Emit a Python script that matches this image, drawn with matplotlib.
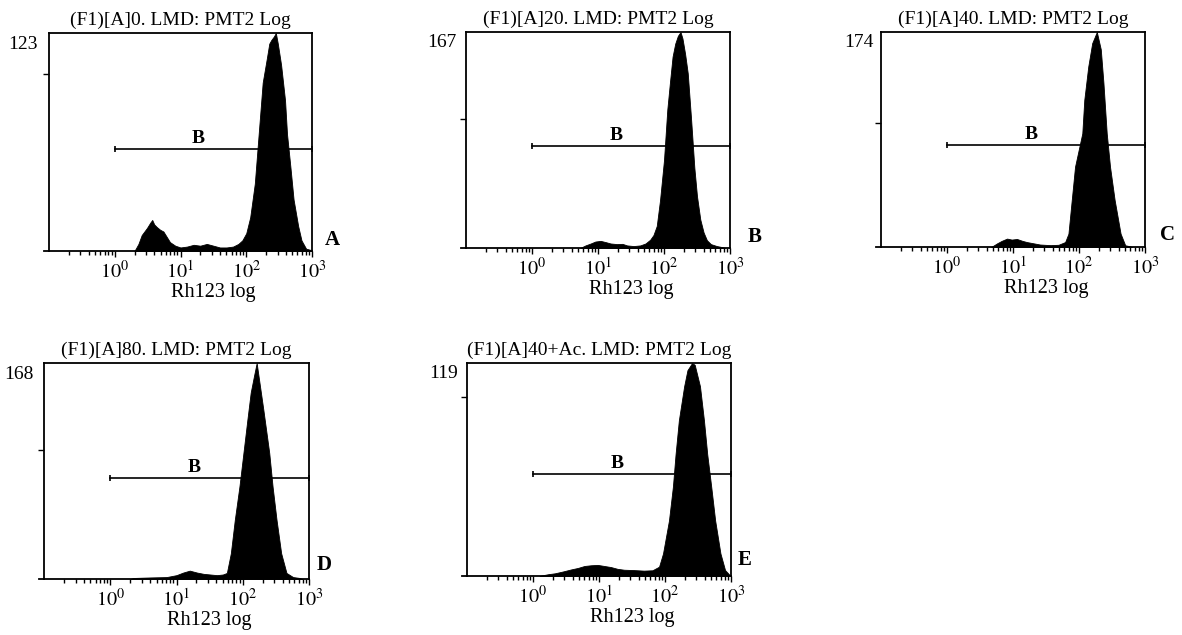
import numpy as np
import matplotlib
matplotlib.use("Agg")
import matplotlib.pyplot as plt
from matplotlib.ticker import FixedLocator, FixedFormatter, LogLocator, NullFormatter

plt.rcParams['font.family'] = ['Liberation Serif', 'DejaVu Serif']
plt.rcParams['mathtext.fontset'] = 'stix'

# ---- data (log10 of channel, counts) ----
titles = ["(F1)[A]0. LMD: PMT2 Log", "(F1)[A]20. LMD: PMT2 Log",
          "(F1)[A]40. LMD: PMT2 Log", "(F1)[A]80. LMD: PMT2 Log",
          "(F1)[A]40+Ac. LMD: PMT2 Log"]
letters = ["A", "B", "C", "D", "E"]
y_max = [123, 167, 174, 168, 119]
gate_y = [57.6, 79.2, 82.5, 78.3, 56.8]
gate_lo, gate_hi = 1.0, 1000.0
gate_name = "B"
x_label = "Rh123 log"
x_ticks = [1, 10, 100, 1000]
x_tick_labels = ["$10^0$", "$10^1$", "$10^2$", "$10^3$"]
y_tick = [100]

a_log = [0.30, 0.36, 0.41, 0.49, 0.54, 0.57, 0.60, 0.64, 0.69, 0.74, 0.79, 0.84,
         0.92, 1.00, 1.10, 1.20, 1.30, 1.40, 1.50, 1.60, 1.70, 1.80, 1.88, 1.94,
         2.00, 2.06, 2.13, 2.17, 2.21, 2.25, 2.31, 2.35, 2.38, 2.42, 2.45, 2.48,
         2.53, 2.59, 2.62, 2.67, 2.72, 2.79, 2.84, 2.91, 2.99, 3.00]
a_cnt = [0, 4, 9, 13, 16, 17.5, 15, 13.5, 12, 11, 8, 5,
         3, 2, 2.5, 3.5, 3, 4, 3, 2, 2, 2.5, 4, 6,
         10, 19, 38, 57, 76, 95, 108, 117, 119, 121, 123, 117,
         105, 85, 66, 48, 29, 14, 6, 1.3, 0.5, 0]

b_log = [0.73, 0.81, 0.89, 0.96, 1.04, 1.12, 1.19, 1.29, 1.37, 1.44, 1.54, 1.64,
         1.72, 1.79, 1.84, 1.89, 1.94, 2.00, 2.05, 2.09, 2.13, 2.17, 2.21, 2.25,
         2.28, 2.32, 2.36, 2.41, 2.46, 2.50, 2.55, 2.60, 2.65, 2.71, 2.80, 2.90, 2.92]
b_cnt = [0, 2, 3.5, 5, 5.5, 4.5, 3.5, 3, 3.2, 2, 1.5, 2,
         3.5, 6.4, 10, 17, 37, 68, 107, 128, 148, 158, 164, 167,
         162, 150, 135, 100, 62, 40, 22, 12, 6, 3, 1.5, 0.5, 0]

c_log = [0.67, 0.76, 0.83, 0.91, 0.98, 1.06, 1.14, 1.21, 1.31, 1.41, 1.57, 1.69,
         1.79, 1.84, 1.89, 1.94, 2.05, 2.08, 2.14, 2.20, 2.27, 2.33, 2.37, 2.42,
         2.47, 2.54, 2.63, 2.70, 2.78, 2.80]
c_cnt = [0, 3, 5, 6.8, 6, 6.5, 5, 4, 3, 2, 1.5, 1.8,
         4, 10.8, 38, 65, 92, 119, 146, 165, 174, 160, 133, 92,
         65, 38, 10.8, 1.4, 0.5, 0]

d_log = [0.30, 0.35, 0.60, 0.85, 1.00, 1.10, 1.20, 1.31, 1.41, 1.51, 1.61, 1.70,
         1.76, 1.82, 1.88, 1.95, 2.01, 2.07, 2.12, 2.17, 2.21, 2.26, 2.31, 2.40,
         2.45, 2.51, 2.58, 2.66, 2.76, 2.86, 2.90]
d_cnt = [0, 0.8, 1.2, 1.5, 3, 5, 6.5, 5, 4, 3.5, 3, 3.5,
         4.7, 20, 46, 72, 98, 124, 145, 158, 168, 150, 132, 98,
         72, 46, 20, 4.7, 1.5, 0.8, 0]

e_log = [0.10, 0.13, 0.23, 0.33, 0.45, 0.58, 0.68, 0.78, 0.88, 0.98, 1.08, 1.18,
         1.28, 1.38, 1.53, 1.68, 1.81, 1.91, 1.97, 2.06, 2.12, 2.16, 2.21, 2.29,
         2.34, 2.41, 2.45, 2.53, 2.59, 2.64, 2.70, 2.76, 2.84, 2.91, 2.98, 3.00]
e_cnt = [0, 0.3, 1, 1.5, 2.5, 3.7, 4.5, 5.6, 6, 6.2, 5.6, 5,
         4, 3.5, 3.3, 3, 3.2, 5.2, 12.6, 31, 50, 68, 87, 106,
         115, 119, 118, 106, 87, 68, 50, 31, 12.6, 3.3, 0.5, 0]

hist_logs = [a_log, b_log, c_log, d_log, e_log]
hist_cnts = [a_cnt, b_cnt, c_cnt, d_cnt, e_cnt]

# ---- layout (pixels in the 1182x635 figure) ----
W, H = 1182, 635
boxes = [(49, 33, 312, 251), (466, 32, 730, 248), (881, 32, 1145, 247),
         (44, 363, 309, 579), (467, 363, 731, 576)]
letter_off = [(13, 6), (18, 6), (15, 7), (8, 9), (7, 11)]
max_off = [(-11, -3), (-9, -2), (-7, -2), (-10, -3), (-9, -2)]

fig = plt.figure(figsize=(W / 100, H / 100), dpi=100)

for i in range(5):
    x0, y0, x1, y1 = boxes[i]
    ax = fig.add_axes([x0 / W, (H - y1) / H, (x1 - x0) / W, (y1 - y0) / H])
    xs = 10 ** np.array(hist_logs[i])
    ax.fill_between(xs, hist_cnts[i], 0, color="black", lw=0.6, edgecolor="black")

    ax.set_xscale("log")
    ax.set_xlim(0.1, 1000)
    ax.set_ylim(0, y_max[i])
    for s in ax.spines.values():
        s.set_linewidth(1.3)

    ax.xaxis.set_major_locator(FixedLocator(x_ticks))
    ax.xaxis.set_major_formatter(FixedFormatter(x_tick_labels))
    ax.xaxis.set_minor_locator(LogLocator(base=10, subs=np.arange(2, 10), numticks=20))
    ax.xaxis.set_minor_formatter(NullFormatter())
    ax.tick_params(axis="x", which="major", direction="out", length=4, width=1,
                   labelsize=14.5, pad=3)
    ax.tick_params(axis="x", which="minor", direction="out", length=3, width=1)
    ax.set_yticks(y_tick)
    ax.set_yticklabels([])
    ax.tick_params(axis="y", direction="out", length=4, width=1)

    # little stub of the x axis to the left of the frame
    ax.plot([-0.018, 0], [0, 0], transform=ax.transAxes, color="black",
            lw=1.3, clip_on=False)

    # gate marker
    ax.plot([gate_lo, gate_hi], [gate_y[i], gate_y[i]], color="black", lw=1.2,
            marker="|", markersize=5, mew=1.2, clip_on=False)
    ax.annotate(gate_name, xy=(10 ** 1.27, gate_y[i]), xytext=(0, 6),
                textcoords="offset pixels", ha="center", va="baseline",
                fontsize=14, fontweight="bold")

    ax.set_title(titles[i], fontsize=14, pad=5.5)
    ax.annotate(str(y_max[i]), xy=(0, 1), xycoords="axes fraction",
                xytext=max_off[i], textcoords="offset pixels",
                ha="right", va="top", fontsize=14)
    ax.annotate(x_label, xy=(10 ** 1.5, 0), xycoords=("data", "axes fraction"),
                xytext=(0, -46), textcoords="offset pixels",
                ha="center", va="baseline", fontsize=14.5)
    ax.annotate(letters[i], xy=(1, 0), xycoords="axes fraction",
                xytext=letter_off[i], textcoords="offset pixels",
                ha="left", va="baseline", fontsize=15, fontweight="bold")

fig.savefig("out.png", dpi=100)
